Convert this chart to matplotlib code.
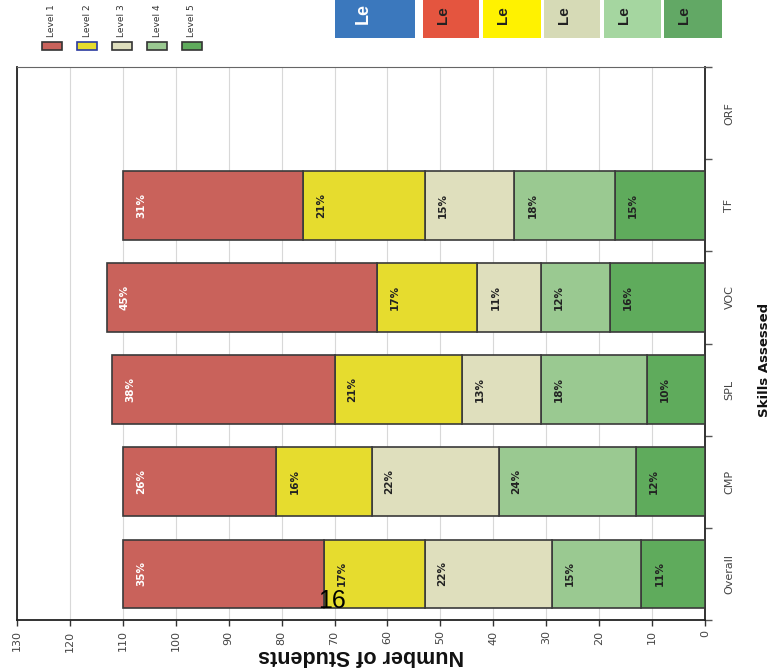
import numpy as np
import matplotlib
matplotlib.use('Agg')
import matplotlib.pyplot as plt
from matplotlib.patches import Rectangle

skills = ['Overall', 'CMP', 'SPL', 'VOC', 'TF', 'ORF']
levels = ['Level 1', 'Level 2', 'Level 3', 'Level 4', 'Level 5']

# number of students per level, one list per level (ORF has no bar)
level1 = [38, 29, 42, 51, 34, 0]
level2 = [19, 18, 24, 19, 23, 0]
level3 = [24, 24, 15, 12, 17, 0]
level4 = [17, 26, 20, 13, 19, 0]
level5 = [12, 13, 11, 18, 17, 0]

# percent labels written on the segments
pct1 = ['35%', '26%', '38%', '45%', '31%']
pct2 = ['17%', '16%', '21%', '17%', '21%']
pct3 = ['22%', '22%', '13%', '11%', '15%']
pct4 = ['15%', '24%', '18%', '12%', '18%']
pct5 = ['11%', '12%', '10%', '16%', '15%']

xticks = list(range(0, 131, 10))

colors = ['#c9625b', '#e6dc2e', '#dfdfbd', '#9ac991', '#5fab5c']
sans = ['Liberation Sans', 'DejaVu Sans']

W, H = 780, 671
fig = plt.figure(figsize=(W / 100, H / 100), dpi=100)


def fx(x):
    return x / W


def fy(y):
    return 1 - y / H


# axes frame in pixels: left 17, right 705, top 67, bottom 620
ax = fig.add_axes([fx(17), fy(620), fx(705) - fx(17), fy(67) - fy(620)])

ypos = np.arange(len(skills))
series = [level5, level4, level3, level2, level1]
scol = colors[::-1]
spct = [pct5, pct4, pct3, pct2, pct1]
left = np.zeros(len(skills))
for vals, c, pl in zip(series, scol, spct):
    vals = np.array(vals, dtype=float)
    ax.barh(ypos, vals, left=left, height=0.745, color=c,
            edgecolor='#3a3a3a', linewidth=1.2, zorder=3)
    ends = left + vals
    for i, lab in enumerate(pl):
        tc = 'white' if c == colors[0] else '#222222'
        ax.text(ends[i] - 3.4, ypos[i], lab, rotation=90, ha='center',
                va='center', fontsize=7.5, fontweight='bold', color=tc,
                zorder=4)
    left = ends

ax.set_xlim(130, 0)
ax.set_ylim(-0.394, 5.489)

ax.set_xticks(xticks)
ax.set_xticklabels([str(t) for t in xticks], rotation=90, fontsize=8,
                   color='#444444')
ax.tick_params(axis='x', direction='out', length=4, width=1, color='#333333')

ax.yaxis.tick_right()
ax.set_yticks(ypos)
ax.set_yticklabels(skills, rotation=90, va='center', fontsize=8,
                   color='#444444')
ax.set_yticks(np.arange(len(skills) + 1) - 0.5, minor=True)
ax.tick_params(axis='y', which='major', length=0, pad=14)
ax.tick_params(axis='y', which='minor', direction='out', length=5,
               width=1, color='#555555')

ax.grid(axis='x', color='#d8d8d8', linewidth=0.8, zorder=0)
for s in ['left', 'bottom', 'right']:
    ax.spines[s].set_color('#222222')
    ax.spines[s].set_linewidth(1.3)
ax.spines['top'].set_color('#666666')
ax.spines['top'].set_linestyle((0, (1, 1)))

# axis titles (rotated like the photo)
fig.text(fx(361), fy(656), 'Number of Students', rotation=180, ha='center',
         va='center', fontsize=15.5, fontweight='bold', color='#111111',
         family=sans)
fig.text(fx(765), fy(360), 'Skills Assessed', rotation=90, ha='center',
         va='center', fontsize=9.5, fontweight='bold', color='#111111')

# legend at the top left
lx = [52, 87, 122, 157, 192]
for x, c, lab in zip(lx, colors, levels):
    ec = '#2a3aa0' if lab == 'Level 2' else '#333333'
    fig.patches.append(Rectangle((fx(x - 10), fy(50)), fx(20), fy(42) - fy(50),
                                 transform=fig.transFigure, facecolor=c,
                                 edgecolor=ec, linewidth=1.2))
    fig.text(fx(x), fy(37), lab, rotation=90, ha='center', va='bottom',
             fontsize=6.5, color='#333333')

# cut-off coloured key boxes at the top right (only "Le" shows)
bx = [(335, 415), (423, 479), (483, 541), (544, 600), (604, 661), (664, 722)]
bcol = ['#3b78bd', '#e4553f', '#fff200', '#d6dab6', '#a5d6a0', '#62a865']
for i, ((x0, x1), c) in enumerate(zip(bx, bcol)):
    fig.patches.append(Rectangle((fx(x0), fy(38)), fx(x1 - x0), fy(0) - fy(38),
                                 transform=fig.transFigure, facecolor=c,
                                 edgecolor='none'))
    big = i == 0
    fig.text(fx(x0 + (28 if big else 20)), fy(24), 'Le', rotation=90,
             ha='center', va='bottom', fontsize=13 if big else 11,
             fontweight='bold', color='white' if big else '#222222',
             family=sans)

# page number stamped on the photo
fig.text(fx(332), fy(601), '16', ha='center', va='center', fontsize=18,
         color='black', family=sans)

plt.savefig('out.png', dpi=100)
